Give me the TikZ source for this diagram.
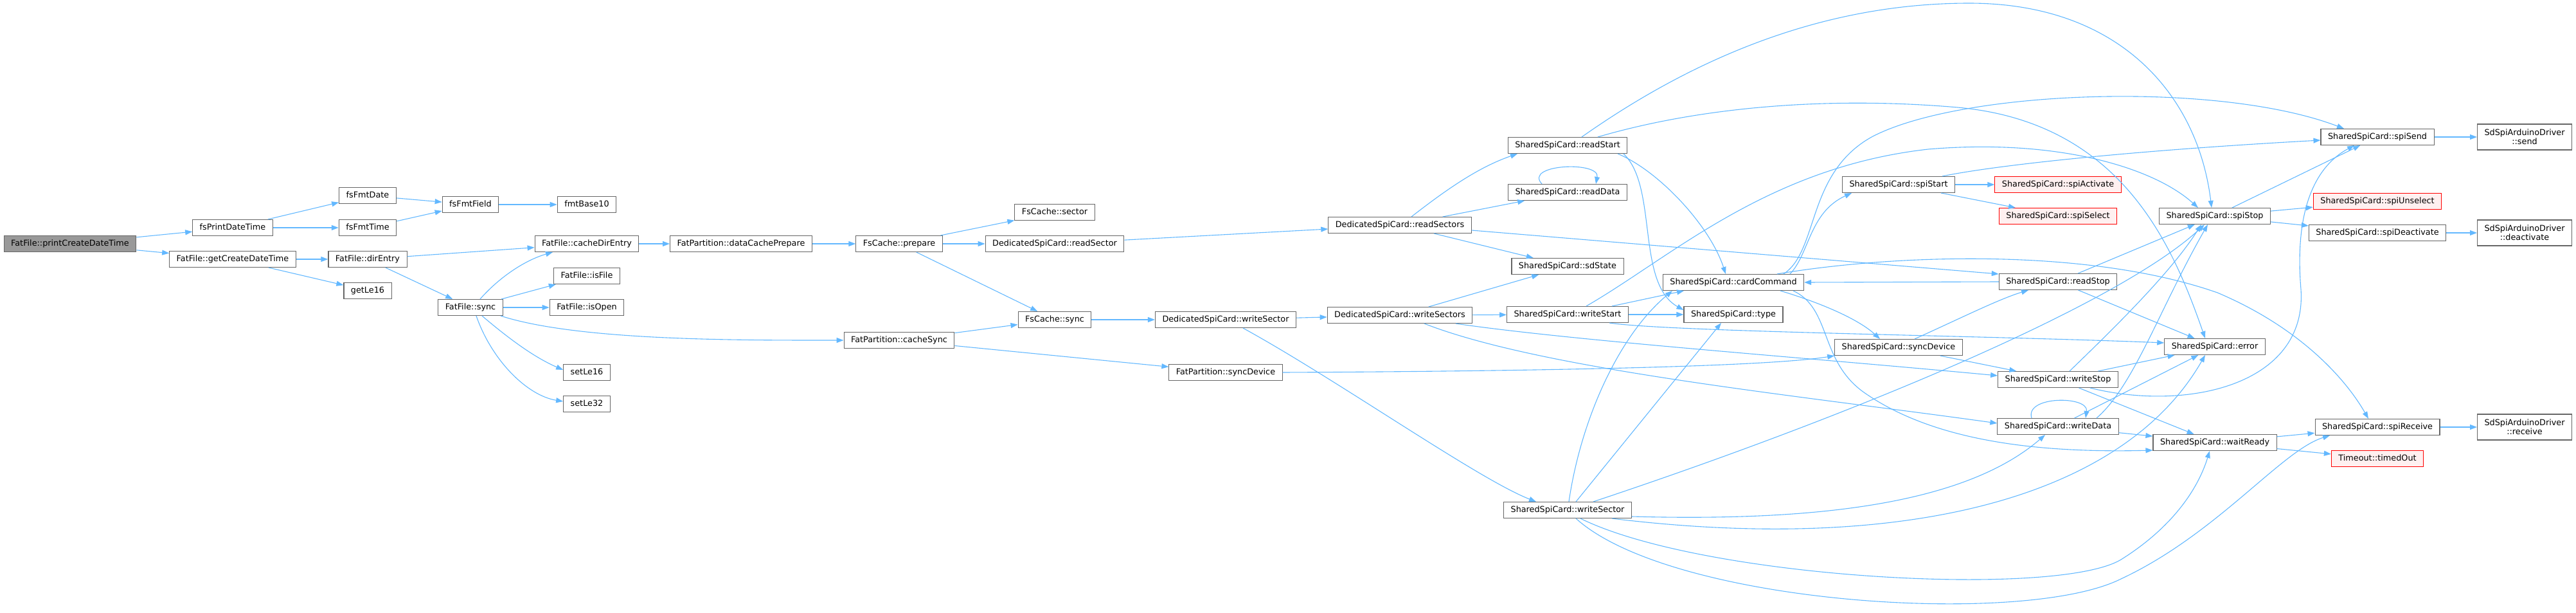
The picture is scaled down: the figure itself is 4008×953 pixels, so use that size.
\documentclass[tikz,border=0pt]{standalone}
\usepackage{fontspec}
\setmainfont{DejaVu Sans}
\usetikzlibrary{arrows.meta}
\definecolor{edgeblue}{HTML}{63B8FF}
\definecolor{boxgray}{HTML}{666666}
\definecolor{rootfill}{HTML}{999999}
\definecolor{redfill}{HTML}{FFF0F0}
\definecolor{redline}{HTML}{FF0000}
\tikzset{
  base/.style={draw=boxgray, fill=white, line width=1.1pt, inner xsep=11pt, inner ysep=0pt,
    font=\fontsize{12.8pt}{14pt}\selectfont},
  box/.style={base, minimum height=25pt, text height=9.6pt, text depth=2.6pt},
  rootbox/.style={box, fill=rootfill},
  redbox/.style={box, draw=redline, fill=redfill},
  twoline/.style={base, align=center, minimum height=40pt},
  edge/.style={draw=edgeblue, line width=1.1pt, -{Triangle[length=11pt,width=8pt]}}
}
\begin{document}
\begin{tikzpicture}[x=1pt,y=-1pt]
\useasboundingbox (0,0) rectangle (4008,953);
% nodes
\node[rootbox] (n0) at (109,379) {FatFile::printCreateDateTime};
\node[box] (fsPrint) at (362,354) {fsPrintDateTime};
\node[box] (getCreate) at (362,403) {FatFile::getCreateDateTime};
\node[box] (fmtDate) at (572,304) {fsFmtDate};
\node[box] (fmtTime) at (572,354) {fsFmtTime};
\node[box] (dirEntry) at (572,403) {FatFile::dirEntry};
\node[box] (getLe) at (572,452) {getLe16};
\node[box] (fmtField) at (732,318) {fsFmtField};
\node[box] (ffsync) at (732,478) {FatFile::sync};
\node[box] (fmtBase) at (913,318) {fmtBase10};
\node[box] (cacheDir) at (913,379) {FatFile::cacheDirEntry};
\node[box] (isFile) at (913,429) {FatFile::isFile};
\node[box] (isOpen) at (913,478) {FatFile::isOpen};
\node[box] (setLeA) at (913,579) {setLe16};
\node[box] (setLeB) at (913,628) {setLe32};
\node[box] (dcPrep) at (1153,379) {FatPartition::dataCachePrepare};
\node[box] (prepare) at (1399,379) {FsCache::prepare};
\node[box] (cacheSync) at (1399,529) {FatPartition::cacheSync};
\node[box] (fcsector) at (1641,330) {FsCache::sector};
\node[box] (readSector) at (1641,379) {DedicatedSpiCard::readSector};
\node[box] (fcsync) at (1641,497) {FsCache::sync};
\node[box] (dwriteSector) at (1907,497) {DedicatedSpiCard::writeSector};
\node[box] (fpsyncDevice) at (1907,579) {FatPartition::syncDevice};
\node[box] (readSectors) at (2178,350) {DedicatedSpiCard::readSectors};
\node[box] (writeSectors) at (2178,490) {DedicatedSpiCard::writeSectors};
\node[box] (readStart) at (2439,226) {SharedSpiCard::readStart};
\node[box] (readData) at (2439,299) {SharedSpiCard::readData};
\node[box] (sdState) at (2439,414) {SharedSpiCard::sdState};
\node[box] (writeStart) at (2439,489) {SharedSpiCard::writeStart};
\node[box] (swriteSector) at (2439,793) {SharedSpiCard::writeSector};
\node[box] (cardCommand) at (2697,439) {SharedSpiCard::cardCommand};
\node[box] (type) at (2697,489) {SharedSpiCard::type};
\node[box] (spiStart) at (2954,287) {SharedSpiCard::spiStart};
\node[box] (ssyncDevice) at (2954,540) {SharedSpiCard::syncDevice};
\node[redbox] (spiActivate) at (3202,287) {SharedSpiCard::spiActivate};
\node[redbox] (spiSelect) at (3202,336) {SharedSpiCard::spiSelect};
\node[box] (readStop) at (3202,438) {SharedSpiCard::readStop};
\node[box] (writeStop) at (3202,590) {SharedSpiCard::writeStop};
\node[box] (writeData) at (3202,663) {SharedSpiCard::writeData};
\node[box] (spiStop) at (3446,336) {SharedSpiCard::spiStop};
\node[box] (error) at (3446,539) {SharedSpiCard::error};
\node[box] (waitReady) at (3446,688) {SharedSpiCard::waitReady};
\node[box] (spiSend) at (3699,213) {SharedSpiCard::spiSend};
\node[redbox] (spiUnselect) at (3699,313) {SharedSpiCard::spiUnselect};
\node[box] (spiDeactivate) at (3699,362) {SharedSpiCard::spiDeactivate};
\node[box] (spiReceive) at (3699,664) {SharedSpiCard::spiReceive};
\node[redbox] (timedOut) at (3699,713) {Timeout::timedOut};
\node[twoline] (drvSend) at (3928,213) {SdSpiArduinoDriver\\::send};
\node[twoline] (drvDeact) at (3928,362) {SdSpiArduinoDriver\\::deactivate};
\node[twoline] (drvReceive) at (3928,664) {SdSpiArduinoDriver\\::receive};
% straight edges
\draw[edge] (n0) -- (fsPrint);
\draw[edge] (n0) -- (getCreate);
\draw[edge] (fsPrint) -- (fmtDate);
\draw[edge] (fsPrint) -- (fmtTime);
\draw[edge] (fmtDate) -- (fmtField);
\draw[edge] (fmtTime) -- (fmtField);
\draw[edge] (fmtField) -- (fmtBase);
\draw[edge] (getCreate) -- (dirEntry);
\draw[edge] (getCreate) -- (getLe);
\draw[edge] (dirEntry) -- (cacheDir);
\draw[edge] (dirEntry) -- (ffsync);
\draw[edge] (ffsync) -- (isFile);
\draw[edge] (ffsync) -- (isOpen);
\draw[edge] (cacheDir) -- (dcPrep);
\draw[edge] (dcPrep) -- (prepare);
\draw[edge] (prepare) -- (fcsector);
\draw[edge] (prepare) -- (readSector);
\draw[edge] (prepare) -- (fcsync);
\draw[edge] (cacheSync) -- (fcsync);
\draw[edge] (cacheSync) -- (fpsyncDevice);
\draw[edge] (fcsync) -- (dwriteSector);
\draw[edge] (readSector) -- (readSectors);
\draw[edge] (dwriteSector) -- (writeSectors);
\draw[edge] (readSectors) -- (readData);
\draw[edge] (readSectors) -- (sdState);
\draw[edge] ([yshift=-8pt]readSectors.east) -- ([yshift=12pt]readStop.west);
\draw[edge] (writeSectors) -- (sdState);
\draw[edge] (writeSectors) -- (writeStart);
\draw[edge] (writeStart.east) -- (type.west);
\draw[edge] ([xshift=69pt]writeStart.north) -- ([xshift=-77pt]cardCommand.south);
\draw[edge] ([xshift=13pt]swriteSector.north) -- ([xshift=-19pt]type.south);
\draw[edge] (readStop.west) -- (cardCommand.east);
\draw[edge] (readStop) -- (error);
\draw[edge] (readStop) -- (spiStop);
\draw[edge] (ssyncDevice) -- (writeStop);
\draw[edge] (writeStop) -- (error);
\draw[edge] (writeStop) -- (waitReady);
\draw[edge] (writeData) -- (error);
\draw[edge] (writeData) -- (waitReady);
\draw[edge] (waitReady) -- (spiReceive);
\draw[edge] (waitReady) -- (timedOut);
\draw[edge] (spiReceive) -- (drvReceive);
\draw[edge] (spiStop) -- (spiSend);
\draw[edge] (spiStop) -- (spiUnselect);
\draw[edge] (spiStop) -- (spiDeactivate);
\draw[edge] (spiDeactivate) -- (drvDeact);
\draw[edge] (spiSend) -- (drvSend);
\draw[edge] (spiStart) -- (spiActivate);
\draw[edge] (spiStart) -- (spiSelect);
% curved edges
\draw[edge] ([xshift=15pt]ffsync.north) .. controls (775,433) and (815,405) .. ([xshift=-53pt]cacheDir.south);
\draw[edge] ([xshift=47pt]ffsync.south) .. controls (900,530) and (1150,529) .. (cacheSync.west);
\draw[edge] ([xshift=18pt]ffsync.south) .. controls (790,525) and (830,555) .. ([yshift=4pt]setLeA.west);
\draw[edge] ([xshift=9pt]ffsync.south) .. controls (765,560) and (820,615) .. ([yshift=4pt]setLeB.west);
\draw[edge] ([xshift=27pt]dwriteSector.south) .. controls (2080,590) and (2300,745) .. ([xshift=-49pt]swriteSector.north);
\draw[edge] (fpsyncDevice.east) .. controls (2400,577) and (2750,570) .. (ssyncDevice.south west);
\draw[edge] ([xshift=18pt]readSectors.north) .. controls (2250,295) and (2300,260) .. ([xshift=-78pt]readStart.south);
\draw[edge] ([xshift=-40pt]readData.north) .. controls (2370,255) and (2490,250) .. ([xshift=44pt]readData.north);
\draw[edge] ([xshift=22pt]readStart.north) .. controls (2650,80) and (2850,5) .. (3064,5) .. controls (3300,5) and (3420,150) .. ([xshift=-5pt]spiStop.north);
\draw[edge] ([xshift=47pt]readStart.north) .. controls (2650,165) and (2850,150) .. (3046,167) .. controls (3300,190) and (3380,380) .. ([xshift=-15pt]error.north);
\draw[edge] ([xshift=78pt]readStart.south) .. controls (2580,265) and (2660,350) .. ([xshift=-12pt]cardCommand.north);
\draw[edge] ([xshift=87pt]readStart.south) .. controls (2580,290) and (2545,440) .. ([yshift=7pt]type.west);
\draw[edge] ([xshift=29pt]writeStart.north) .. controls (2600,400) and (2750,260) .. (3000,232) .. controls (3200,215) and (3350,260) .. ([xshift=-26pt]spiStop.north);
\draw[edge] ([xshift=65pt]writeStart.south) .. controls (2600,516) and (3100,522) .. ([yshift=6pt]error.west);
\draw[edge] ([xshift=87pt]writeSectors.south) .. controls (2450,530) and (2800,555) .. ([yshift=6pt]writeStop.west);
\draw[edge] ([xshift=38pt]writeSectors.south) .. controls (2400,575) and (2800,615) .. ([yshift=5pt]writeData.west);
\draw[edge] ([xshift=2pt]swriteSector.north) .. controls (2460,650) and (2520,520) .. ([xshift=-95pt]cardCommand.south);
\draw[edge] ([xshift=40pt]swriteSector.north) .. controls (2900,640) and (3300,470) .. ([xshift=-16pt]spiStop.south);
\draw[edge] ([yshift=-10pt]swriteSector.east) .. controls (2800,810) and (3050,790) .. ([xshift=-20pt]writeData.south);
\draw[edge] ([xshift=69pt]swriteSector.south) .. controls (2950,860) and (3300,780) .. ([xshift=-15pt]error.south);
\draw[edge] ([xshift=20pt]swriteSector.south) .. controls (2650,900) and (3200,930) .. (3300,870) .. controls (3380,820) and (3420,760) .. ([xshift=-8pt]waitReady.south);
\draw[edge] ([xshift=13pt]swriteSector.south) .. controls (2600,940) and (3150,975) .. (3300,900) .. controls (3450,830) and (3550,700) .. ([xshift=-74pt]spiReceive.south);
\draw[edge] ([xshift=88pt]cardCommand.north) .. controls (2815,395) and (2815,330) .. ([xshift=-73pt]spiStart.south);
\draw[edge] ([xshift=78pt]cardCommand.north) .. controls (2830,390) and (2810,270) .. (2912,213) .. controls (3050,140) and (3450,125) .. ([xshift=-52pt]spiSend.north);
\draw[edge] ([xshift=68pt]cardCommand.north) .. controls (2950,395) and (3250,385) .. (3450,455) .. controls (3580,510) and (3650,590) .. ([xshift=-14pt]spiReceive.north);
\draw[edge] ([xshift=73pt]cardCommand.south) .. controls (2830,470) and (2890,495) .. ([xshift=-29pt]ssyncDevice.north);
\draw[edge] ([xshift=93pt]cardCommand.south) .. controls (2850,480) and (2830,560) .. (2900,610) .. controls (3000,680) and (3150,705) .. ([yshift=-12pt]waitReady.west);
\draw[edge] ([xshift=25pt]ssyncDevice.north) .. controls (3050,495) and (3110,465) .. ([xshift=-46pt]readStop.south);
\draw[edge] ([xshift=18pt]writeStop.north) .. controls (3300,500) and (3380,420) .. ([xshift=-21pt]spiStop.south);
\draw[edge] ([xshift=50pt]writeStop.south) .. controls (3400,640) and (3590,600) .. (3580,450) .. controls (3570,330) and (3600,260) .. ([xshift=-36pt]spiSend.south);
\draw[edge] ([xshift=-41pt]writeData.north) .. controls (3150,615) and (3250,615) .. ([xshift=43pt]writeData.north);
\draw[edge] ([xshift=60pt]writeData.north) .. controls (3320,600) and (3360,480) .. ([xshift=-11pt]spiStop.south);
\draw[edge] ([xshift=68pt]spiStart.north) .. controls (3100,258) and (3300,235) .. ([yshift=-5pt]spiSend.west);
\end{tikzpicture}
\end{document}
